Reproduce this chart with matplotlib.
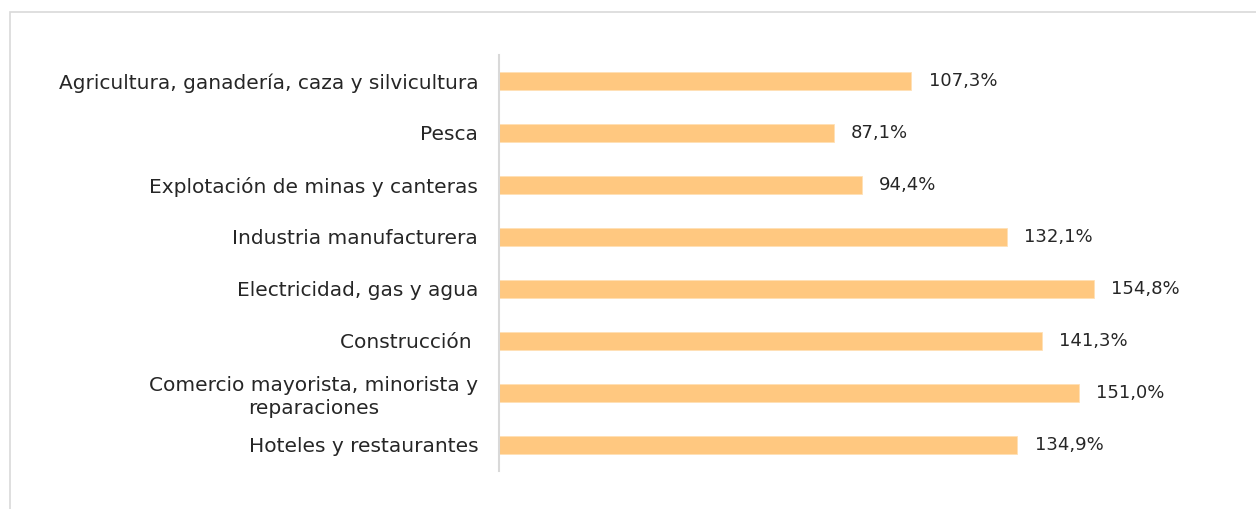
import matplotlib.pyplot as plt
from matplotlib.patches import Rectangle

# data
sectores = [
    "Agricultura, ganadería, caza y silvicultura",
    "Pesca",
    "Explotación de minas y canteras",
    "Industria manufacturera",
    "Electricidad, gas y agua",
    "Construcción ",
    "Comercio mayorista, minorista y\nreparaciones",
    "Hoteles y restaurantes",
]
valores = [107.3, 87.1, 94.4, 132.1, 154.8, 141.3, 151.0, 134.9]
etiquetas = ["107,3%", "87,1%", "94,4%", "132,1%", "154,8%", "141,3%", "151,0%", "134,9%"]

plt.rcParams['font.family'] = ['DejaVu Sans']

fig = plt.figure(figsize=(12.56, 5.09), dpi=100)
ax = fig.add_axes([499 / 1256, 1 - 471 / 509, 730 / 1256, 416 / 509])

# light gray frame around the chart area (only top/left visible)
fig.patches.append(Rectangle((10 / 1256, -0.1), 1.2, (509 - 12) / 509 + 0.1,
                             transform=fig.transFigure, fill=False,
                             edgecolor='#D9D9D9', linewidth=1.2))

pos = list(range(len(sectores)))
ax.barh(pos, valores, height=0.35, color='#FFC880', edgecolor='#FFE0B5', linewidth=0.6)

for p, v, t in zip(pos, valores, etiquetas):
    ax.text(v + 4.5, p, t, va='center', ha='left', fontsize=13, color='#262626')

ax.set_yticks(pos)
ax.set_yticklabels(sectores, fontsize=14.5, color='#262626', linespacing=1.25,
                   multialignment='center')
ax.tick_params(axis='y', length=0, pad=15)
ax.set_xticks([])
ax.set_xlim(0, 190)
ax.set_ylim(len(sectores) - 0.5, -0.5)

for s in ['top', 'right', 'bottom']:
    ax.spines[s].set_visible(False)
ax.spines['left'].set_color('#D9D9D9')
ax.spines['left'].set_linewidth(1.5)

fig.savefig('out.png', dpi=100)
